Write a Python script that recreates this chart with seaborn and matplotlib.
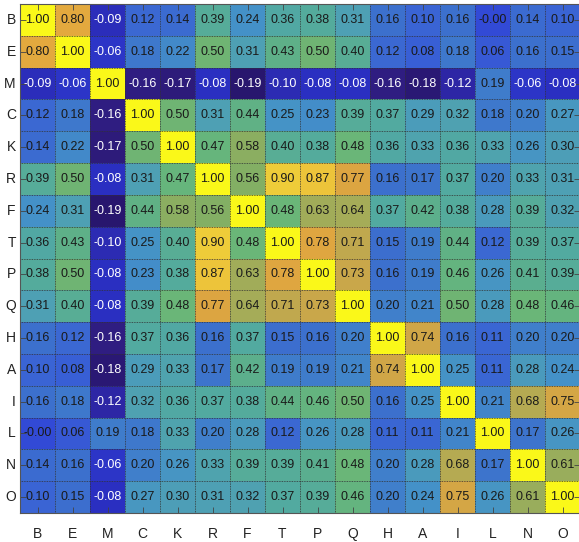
import numpy as np
import pandas as pd
import matplotlib
matplotlib.use("Agg")
import matplotlib.pyplot as plt
from matplotlib.colors import LinearSegmentedColormap
import seaborn as sns

labels = ["B", "E", "M", "C", "K", "R", "F", "T", "P", "Q", "H", "A", "I", "L", "N", "O"]

row_B = [1.00, 0.80, -0.09, 0.12, 0.14, 0.39, 0.24, 0.36, 0.38, 0.31, 0.16, 0.10, 0.16, -0.00, 0.14, 0.10]
row_E = [0.80, 1.00, -0.06, 0.18, 0.22, 0.50, 0.31, 0.43, 0.50, 0.40, 0.12, 0.08, 0.18, 0.06, 0.16, 0.15]
row_M = [-0.09, -0.06, 1.00, -0.16, -0.17, -0.08, -0.19, -0.10, -0.08, -0.08, -0.16, -0.18, -0.12, 0.19, -0.06, -0.08]
row_C = [0.12, 0.18, -0.16, 1.00, 0.50, 0.31, 0.44, 0.25, 0.23, 0.39, 0.37, 0.29, 0.32, 0.18, 0.20, 0.27]
row_K = [0.14, 0.22, -0.17, 0.50, 1.00, 0.47, 0.58, 0.40, 0.38, 0.48, 0.36, 0.33, 0.36, 0.33, 0.26, 0.30]
row_R = [0.39, 0.50, -0.08, 0.31, 0.47, 1.00, 0.56, 0.90, 0.87, 0.77, 0.16, 0.17, 0.37, 0.20, 0.33, 0.31]
row_F = [0.24, 0.31, -0.19, 0.44, 0.58, 0.56, 1.00, 0.48, 0.63, 0.64, 0.37, 0.42, 0.38, 0.28, 0.39, 0.32]
row_T = [0.36, 0.43, -0.10, 0.25, 0.40, 0.90, 0.48, 1.00, 0.78, 0.71, 0.15, 0.19, 0.44, 0.12, 0.39, 0.37]
row_P = [0.38, 0.50, -0.08, 0.23, 0.38, 0.87, 0.63, 0.78, 1.00, 0.73, 0.16, 0.19, 0.46, 0.26, 0.41, 0.39]
row_Q = [0.31, 0.40, -0.08, 0.39, 0.48, 0.77, 0.64, 0.71, 0.73, 1.00, 0.20, 0.21, 0.50, 0.28, 0.48, 0.46]
row_H = [0.16, 0.12, -0.16, 0.37, 0.36, 0.16, 0.37, 0.15, 0.16, 0.20, 1.00, 0.74, 0.16, 0.11, 0.20, 0.20]
row_A = [0.10, 0.08, -0.18, 0.29, 0.33, 0.17, 0.42, 0.19, 0.19, 0.21, 0.74, 1.00, 0.25, 0.11, 0.28, 0.24]
row_I = [0.16, 0.18, -0.12, 0.32, 0.36, 0.37, 0.38, 0.44, 0.46, 0.50, 0.16, 0.25, 1.00, 0.21, 0.68, 0.75]
row_L = [-0.00, 0.06, 0.19, 0.18, 0.33, 0.20, 0.28, 0.12, 0.26, 0.28, 0.11, 0.11, 0.21, 1.00, 0.17, 0.26]
row_N = [0.14, 0.16, -0.06, 0.20, 0.26, 0.33, 0.39, 0.39, 0.41, 0.48, 0.20, 0.28, 0.68, 0.17, 1.00, 0.61]
row_O = [0.10, 0.15, -0.08, 0.27, 0.30, 0.31, 0.32, 0.37, 0.39, 0.46, 0.20, 0.24, 0.75, 0.26, 0.61, 1.00]

rows = [row_B, row_E, row_M, row_C, row_K, row_R, row_F, row_T,
        row_P, row_Q, row_H, row_A, row_I, row_L, row_N, row_O]
df = pd.DataFrame(rows, index=labels, columns=labels)

vmin, vmax = -0.19, 1.00
# colour anchors (value -> RGB) approximating the reference's parula-like map
anchor_vals = [-0.19, -0.16, -0.12, -0.08, 0.00, 0.10, 0.16, 0.24, 0.31, 0.37,
               0.42, 0.48, 0.56, 0.64, 0.71, 0.77, 0.82, 0.87, 0.90, 0.95, 1.00]
anchor_rgb = [(40, 22, 110), (48, 30, 130), (45, 38, 165), (42, 48, 195), (50, 75, 215),
              (58, 100, 212), (60, 112, 205), (68, 145, 200), (78, 160, 180), (82, 170, 160),
              (92, 175, 140), (105, 182, 120), (130, 175, 100), (165, 172, 88), (192, 168, 78),
              (220, 165, 65), (232, 172, 60), (237, 195, 58), (238, 203, 58), (245, 225, 45),
              (250, 248, 25)]
cmap = LinearSegmentedColormap.from_list(
    "refmap",
    [((v - vmin) / (vmax - vmin), tuple(c / 255 for c in rgb)) for v, rgb in zip(anchor_vals, anchor_rgb)],
)

plt.rcParams["font.family"] = ["Liberation Sans", "DejaVu Sans"]

fig = plt.figure(figsize=(5.79, 5.42), dpi=100)
ax = fig.add_axes([20 / 579, 1 - 513 / 542, 560 / 579, 509 / 542])

vals = df.values
annot = np.array([[f"{v:.2f}" for v in r] for r in vals])

sns.heatmap(df, ax=ax, cmap=cmap, vmin=vmin, vmax=vmax, cbar=False,
            annot=annot, fmt="", annot_kws={"fontsize": 9})

for t, v in zip(ax.texts, vals.flatten()):
    t.set_color("white" if v < -0.005 else "#1a1a1a")

n = len(labels)
for i in range(1, n):
    ax.axhline(i, color="#333333", lw=0.6, ls=(0, (1, 1)))
    ax.axvline(i, color="#333333", lw=0.6, ls=(0, (1, 1)))

for s in ax.spines.values():
    s.set_visible(True)
    s.set_color("#555555")
    s.set_linewidth(0.8)

ax.tick_params(axis="both", direction="in", length=4, width=0.6, color="#444444",
               top=True, right=True, labelsize=10, labelcolor="#222222")
ax.tick_params(axis="x", pad=10)
ax.tick_params(axis="y", pad=3)
ax.set_xticklabels(labels, rotation=0)
ax.set_yticklabels(labels, rotation=0)
ax.set_xlabel("")
ax.set_ylabel("")

fig.savefig("out.png", dpi=100)
